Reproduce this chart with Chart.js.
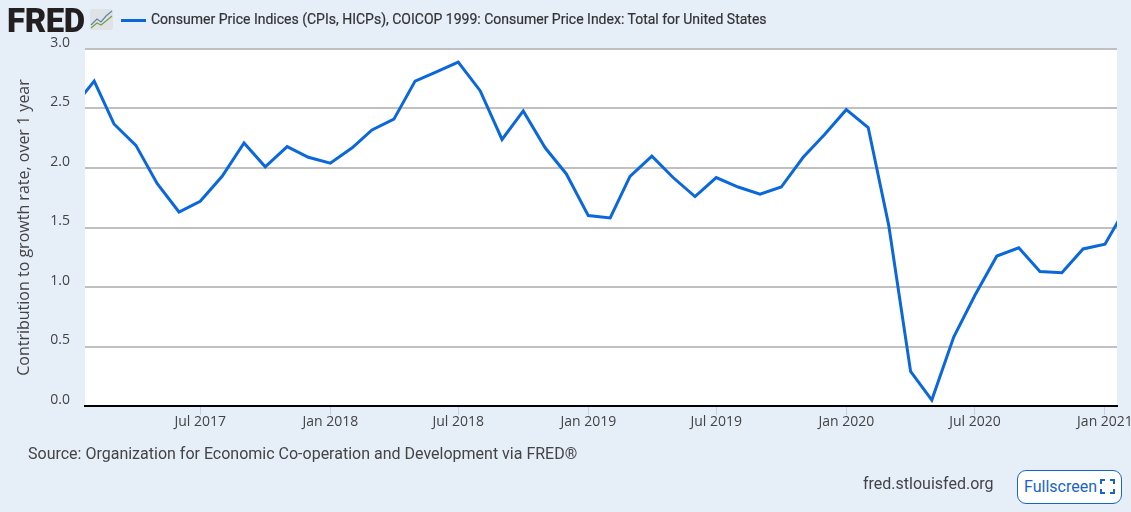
<!DOCTYPE html>
<html>
<head>
<meta charset="utf-8">
<script src="https://cdn.jsdelivr.net/npm/chart.js@4"></script>
<style>
  html, body { margin: 0; padding: 0; background: #e6eef8; overflow: hidden; }
  body { width: 1131px; height: 512px; position: relative; font-family: Roboto, sans-serif; color: #444; }
  canvas { position: absolute; left: 0; top: 0; }
  .abs { position: absolute; white-space: nowrap; }
  #logo { left: 7px; top: 4px; font: 900 33px/34px Roboto, sans-serif; color: #231f20; letter-spacing: -0.4px; }
  #icon { left: 90px; top: 9px; }
  #swatch { left: 121px; top: 19px; width: 25px; height: 3px; background: #0a68dc; }
  #legend { left: 151px; top: 11px; font: 400 14px/17px Roboto, sans-serif; color: #333; -webkit-text-stroke: 0.2px #333; }
  #source { left: 28px; top: 445px; font: 400 16px/18px Roboto, sans-serif; color: #444; }
  #site { left: 863px; top: 475px; font: 400 16px/18px Roboto, sans-serif; color: #444; }
  #full { left: 1017px; top: 470px; width: 97px; height: 32px; border: 1px solid #1a64c8; border-radius: 9px;
          font: 400 16px/32px Roboto, sans-serif; color: #1a64c8; padding-left: 6px; background: #ffffff; }
  #full svg { position: absolute; left: 82px; top: 8px; }
</style>
</head>
<body>
<canvas id="chart" width="1131" height="512"></canvas>
<div class="abs" id="logo">FRED</div>
<svg class="abs" id="icon" width="23" height="22" viewBox="0 0 23 22">
  <rect x="0" y="0" width="23" height="21" rx="2" fill="#dfe3e6"/>
  <polyline points="1,16 7,10 11,13 16,7 22,2" fill="none" stroke="#5a86a8" stroke-width="1.2"/>
  <polyline points="1,19 7,14 11,16 16,12 22,7" fill="none" stroke="#7d9a4d" stroke-width="1.2"/>
</svg>
<div class="abs" id="swatch"></div>
<div class="abs" id="legend">Consumer Price Indices (CPIs, HICPs), COICOP 1999: Consumer Price Index: Total for United States</div>
<div class="abs" id="source">Source: Organization for Economic Co-operation and Development via FRED®</div>
<div class="abs" id="site">fred.stlouisfed.org</div>
<div class="abs" id="full">Fullscreen
  <svg width="15" height="15" viewBox="0 0 15 15" fill="none" stroke="#1a64c8" stroke-width="2">
    <path d="M1 5V1H5M10 1H14V5M14 10V14H10M5 14H1V10"/>
  </svg>
</div>
<script>
// monthly observations
const months = ['2017-01','2017-02','2017-03','2017-04','2017-05','2017-06','2017-07','2017-08','2017-09','2017-10','2017-11','2017-12',
                '2018-01','2018-02','2018-03','2018-04','2018-05','2018-06','2018-07','2018-08','2018-09','2018-10','2018-11','2018-12',
                '2019-01','2019-02','2019-03','2019-04','2019-05','2019-06','2019-07','2019-08','2019-09','2019-10','2019-11','2019-12',
                '2020-01','2020-02','2020-03','2020-04','2020-05','2020-06','2020-07','2020-08','2020-09','2020-10','2020-11','2020-12',
                '2021-01','2021-02'];
const cpiValues = [2.50,2.73,2.37,2.19,1.87,1.63,1.72,1.93,2.21,2.01,2.18,2.09,
                   2.04,2.17,2.32,2.41,2.73,2.81,2.89,2.65,2.24,2.48,2.17,1.95,
                   1.60,1.58,1.93,2.10,1.92,1.76,1.92,1.84,1.78,1.84,2.09,2.28,
                   2.49,2.34,1.52,0.29,0.05,0.58,0.93,1.26,1.33,1.13,1.12,1.32,
                   1.36,1.68];
const tickMonths = ['2017-07','2018-01','2018-07','2019-01','2019-07','2020-01','2020-07','2021-01'];
const tickLabels = ['Jul 2017','Jan 2018','Jul 2018','Jan 2019','Jul 2019','Jan 2020','Jul 2020','Jan 2021'];
const yTicks = [0, 0.5, 1, 1.5, 2, 2.5, 3];

const toTime = m => Date.UTC(+m.slice(0, 4), +m.slice(5, 7) - 1, 1);

const plotBackground = {
    id: 'plotBackground',
    beforeDraw(chart) {
        const { ctx, chartArea: a } = chart;
        ctx.save();
        ctx.fillStyle = '#ffffff';
        ctx.fillRect(a.left, a.top, a.right - a.left, a.bottom - a.top);
        ctx.restore();
    }
};

new Chart(document.getElementById('chart'), {
    type: 'line',
    data: {
        datasets: [{
            label: 'Consumer Price Indices (CPIs, HICPs), COICOP 1999: Consumer Price Index: Total for United States',
            data: months.map((m, i) => ({ x: toTime(m), y: cpiValues[i] })),
            borderColor: '#0a68dc',
            borderWidth: 3,
            pointRadius: 0,
            tension: 0
        }]
    },
    options: {
        responsive: false,
        animation: false,
        devicePixelRatio: 1,
        layout: { padding: { top: 49, right: 14, bottom: 0, left: 0 } },
        plugins: { legend: { display: false }, tooltip: { enabled: false } },
        scales: {
            x: {
                type: 'linear',
                min: Date.UTC(2017, 0, 19),
                max: Date.UTC(2021, 0, 18),
                afterBuildTicks: axis => { axis.ticks = tickMonths.map(m => ({ value: toTime(m) })); },
                afterFit: axis => {
                    axis.height = 106;
                    axis.paddingLeft = 0;
                    axis.paddingRight = 0;
                },
                grid: { drawOnChartArea: false, drawTicks: true, tickLength: 9, color: '#c5d0e6', lineWidth: 1 },
                border: { display: true, color: '#000000', width: 2 },
                ticks: {
                    autoSkip: false,
                    maxRotation: 0,
                    padding: -1,
                    color: '#444',
                    font: { family: 'Open Sans', size: 14 },
                    callback: value => tickLabels[tickMonths.findIndex(m => toTime(m) === value)]
                }
            },
            y: {
                min: 0,
                max: 3,
                afterBuildTicks: axis => { axis.ticks = yTicks.map(v => ({ value: v })); },
                afterFit: axis => { axis.width = 85; },
                grid: { color: '#c0c0c0', lineWidth: 2, drawTicks: false },
                border: { display: false },
                title: {
                    display: true,
                    text: 'Contribution to growth rate, over 1 year',
                    color: '#444',
                    font: { family: 'Open Sans', size: 16 },
                    padding: { top: 15, bottom: 0 }
                },
                ticks: {
                    padding: 15,
                    labelOffset: -6,
                    color: '#444',
                    font: { family: 'Open Sans', size: 14 },
                    callback: value => value.toFixed(1)
                }
            }
        }
    },
    plugins: [plotBackground]
});
</script>
</body>
</html>
